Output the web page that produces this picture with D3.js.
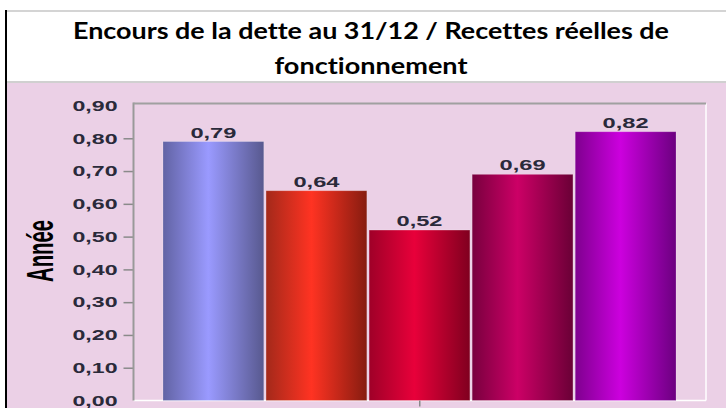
<!DOCTYPE html>
<html>
<head>
<meta charset="utf-8">
<script src="https://cdn.jsdelivr.net/npm/d3@7"></script>
<style>
  html, body { margin: 0; padding: 0; background: #ffffff; }
  svg { display: block; }
  text { font-variant-ligatures: none; font-feature-settings: "liga" 0, "clig" 0; }
</style>
</head>
<body>
<svg id="chart" width="726" height="408"></svg>
<script>
// ---- data ----
const titleLines = ["Encours de la dette au 31/12 / Recettes réelles de", "fonctionnement"];
const yAxisTitle = "Année";
const categories = [""];
const seriesNames = ["Série 1", "Série 2", "Série 3", "Série 4", "Série 5"];
const seriesValues = [0.79, 0.64, 0.52, 0.69, 0.82];
const yTicks = [0, 0.1, 0.2, 0.3, 0.4, 0.5, 0.6, 0.7, 0.8, 0.9];
const seriesColors = [
  ["#6263a4", "#9a9aff", "#58598f"],
  ["#a3291a", "#ff3322", "#861c10"],
  ["#9f0028", "#e8003a", "#80001f"],
  ["#78003e", "#cc0066", "#6a0036"],
  ["#7f008f", "#cc00de", "#6c0080"]
];

const fmt = d => d.toFixed(2).replace(".", ",");

const svg = d3.select("#chart");
const W = 726, H = 408;

// background & frame
svg.append("rect").attr("x", 0).attr("y", 0).attr("width", W).attr("height", H).attr("fill", "#ffffff");
svg.append("rect").attr("x", 7).attr("y", 83).attr("width", W - 7).attr("height", H - 83).attr("fill", "#ebd0e6");
svg.append("line").attr("x1", 5).attr("x2", W).attr("y1", 11).attr("y2", 11).attr("stroke", "#d4d4d4").attr("stroke-width", 2);
svg.append("line").attr("x1", 7).attr("x2", W).attr("y1", 82).attr("y2", 82).attr("stroke", "#d0d0d0").attr("stroke-width", 2);
svg.append("line").attr("x1", 6).attr("x2", 6).attr("y1", 10).attr("y2", H).attr("stroke", "#000").attr("stroke-width", 2);

// title
const titleSpecs = [{y: 38.5, len: 596}, {y: 74, len: 193}];
titleLines.forEach((t, i) => {
  svg.append("text")
    .attr("x", 371).attr("y", titleSpecs[i].y)
    .attr("text-anchor", "middle")
    .attr("font-family", "Lato, 'Open Sans', sans-serif")
    .attr("font-weight", "bold")
    .attr("font-size", 22)
    .attr("textLength", titleSpecs[i].len)
    .attr("lengthAdjust", "spacingAndGlyphs")
    .attr("fill", "#000")
    .text(t);
});

// plot geometry
const plot = {left: 133.5, right: 706, top: 103.5, bottom: 400.5};
const y = d3.scaleLinear().domain([0, 0.9]).range([400.5, 105.5]);
const xCat = d3.scaleBand().domain(categories).range([plot.left, plot.right]);
const xSeries = d3.scaleBand().domain(seriesNames).range([163, 676]).paddingInner(0.022);

// gradients
const defs = svg.append("defs");
seriesColors.forEach((c, i) => {
  const g = defs.append("linearGradient").attr("id", "g" + i)
    .attr("x1", "0%").attr("x2", "100%").attr("y1", "0%").attr("y2", "0%");
  g.append("stop").attr("offset", "0%").attr("stop-color", c[0]);
  g.append("stop").attr("offset", "45%").attr("stop-color", c[1]);
  g.append("stop").attr("offset", "100%").attr("stop-color", c[2]);
});

// frame lines (right/bottom white)
svg.append("line").attr("x1", plot.left).attr("x2", plot.right).attr("y1", plot.bottom).attr("y2", plot.bottom).attr("stroke", "#ffffff").attr("stroke-width", 1.5);
svg.append("line").attr("x1", plot.right).attr("x2", plot.right).attr("y1", plot.top).attr("y2", plot.bottom).attr("stroke", "#ffffff").attr("stroke-width", 1.5);

// bars
const data = seriesNames.map((s, i) => ({s, v: seriesValues[i], i}));
svg.append("g").selectAll("rect").data(data).join("rect")
  .attr("x", d => xSeries(d.s))
  .attr("width", xSeries.bandwidth())
  .attr("y", d => y(d.v))
  .attr("height", d => y(0) - y(d.v))
  .attr("fill", d => `url(#g${d.i})`)
  .attr("stroke", "rgba(255,255,255,0.25)")
  .attr("stroke-width", 0.8);

// value labels
svg.append("g").selectAll("text").data(data).join("text")
  .attr("x", d => xSeries(d.s) + xSeries.bandwidth() / 2)
  .attr("y", d => y(d.v) - 4)
  .attr("text-anchor", "middle")
  .attr("font-family", "'Liberation Sans', Arial, sans-serif")
  .attr("font-weight", "bold")
  .attr("font-size", 15)
  .attr("textLength", 46)
  .attr("lengthAdjust", "spacingAndGlyphs")
  .attr("fill", "#2a2a3a")
  .text(d => fmt(d.v));

// y axis
const yAxis = d3.axisLeft(y).tickValues(yTicks).tickSize(10).tickPadding(6).tickFormat(fmt);
const gy = svg.append("g").attr("transform", `translate(${plot.left},0)`).call(yAxis);
gy.select(".domain").remove();
gy.selectAll(".tick line").attr("stroke", "#8a8a8a").attr("stroke-width", 1.5)
  .attr("display", d => (d === 0 || d === 0.9) ? "none" : null);
gy.selectAll(".tick text")
  .attr("font-family", "'Liberation Sans', Arial, sans-serif")
  .attr("font-weight", "bold")
  .attr("font-size", 15)
  .attr("textLength", 45)
  .attr("lengthAdjust", "spacingAndGlyphs")
  .attr("fill", "#2a2a3a");

// left & top frame lines (grey)
svg.append("line").attr("x1", plot.left).attr("x2", plot.left).attr("y1", plot.top - 1).attr("y2", plot.bottom).attr("stroke", "#999").attr("stroke-width", 2);
svg.append("line").attr("x1", plot.left).attr("x2", plot.right).attr("y1", plot.top).attr("y2", plot.top).attr("stroke", "#a0a0a0").attr("stroke-width", 2);

// x axis (single category)
const xAxis = d3.axisBottom(xCat).tickSize(6).tickFormat(d => d);
const gx = svg.append("g").attr("transform", `translate(0,${plot.bottom})`).call(xAxis);
gx.select(".domain").remove();
gx.selectAll(".tick line").attr("stroke", "#8a8a8a").attr("stroke-width", 1.5);

// y axis title
svg.append("text")
  .attr("transform", "translate(53,251) rotate(-90)")
  .attr("text-anchor", "middle")
  .attr("font-family", "'Liberation Sans', Arial, sans-serif")
  .attr("font-weight", "bold")
  .attr("font-size", 36)
  .attr("textLength", 62)
  .attr("lengthAdjust", "spacingAndGlyphs")
  .attr("fill", "#000")
  .text(yAxisTitle);
</script>
</body>
</html>
